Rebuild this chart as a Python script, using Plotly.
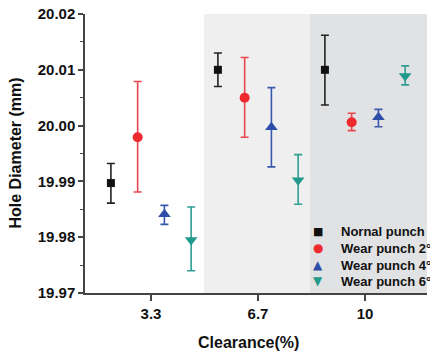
import plotly.graph_objects as go

clearance_labels = ["3.3", "6.7", "10"]
series_names = ["Nornal punch", "Wear punch 2°", "Wear punch 4°", "Wear punch 6°"]

normal_mean = [19.9897, 20.0100, 20.0100]
normal_hi = [19.9932, 20.0130, 20.0162]
normal_lo = [19.9861, 20.0070, 20.0037]

wear2_mean = [19.9979, 20.0050, 20.0006]
wear2_hi = [20.0079, 20.0122, 20.0022]
wear2_lo = [19.9881, 19.9979, 19.9991]

wear4_mean = [19.9841, 19.9997, 20.0015]
wear4_hi = [19.9857, 20.0068, 20.0029]
wear4_lo = [19.9823, 19.9926, 19.9998]

wear6_mean = [19.9795, 19.9902, 20.0089]
wear6_hi = [19.9854, 19.9948, 20.0107]
wear6_lo = [19.9740, 19.9859, 20.0073]

offsets = [-0.375, -0.125, 0.125, 0.375]
colors = ["#111111", "#ee2a2f", "#2d4ea8", "#1f9a8b"]
err_colors = ["#222222", "#e8464e", "#3a58ad", "#2f9f91"]
symbols = ["square", "circle", "triangle-up", "triangle-down"]
sizes = [8, 10, 11, 11]
legend_glyphs = ["■", "●", "▲", "▼"]
legend_glyph_sizes = [11, 12, 12, 12]

data = [
    (normal_mean, normal_hi, normal_lo),
    (wear2_mean, wear2_hi, wear2_lo),
    (wear4_mean, wear4_hi, wear4_lo),
    (wear6_mean, wear6_hi, wear6_lo),
]

L, R, T, B = 85, 3, 14, 64
W, H = 430, 357
pw, ph = W - L - R, H - T - B

def px_x(x):
    return (x - L) / pw

def px_y(y):
    return (H - B - y) / ph

fig = go.Figure()

# shaded regions
fig.add_shape(type="rect", xref="x", yref="y", x0=0.495, x1=1.486, y0=19.97, y1=20.02,
              fillcolor="#efefef", line_width=0, layer="below")
fig.add_shape(type="rect", xref="x", yref="y", x0=1.486, x1=2.6, y0=19.97, y1=20.02,
              fillcolor="#e1e2e3", line_width=0, layer="below")

for i, (m, hi, lo) in enumerate(data):
    xs = [g + offsets[i] for g in range(len(clearance_labels))]
    fig.add_trace(go.Scatter(
        x=xs, y=m, mode="markers", name=series_names[i], showlegend=False,
        marker=dict(symbol=symbols[i], size=sizes[i], color=colors[i], line=dict(width=0)),
        error_y=dict(type="data", symmetric=False,
                     array=[h - v for h, v in zip(hi, m)],
                     arrayminus=[v - l for v, l in zip(m, lo)],
                     color=err_colors[i], thickness=1.6, width=4),
    ))

annotations = [
    dict(text="Clearance(%)", xref="paper", yref="paper", x=px_x(248), y=px_y(342),
         xanchor="center", yanchor="middle", showarrow=False,
         font=dict(size=16, weight="bold")),
    dict(text="Hole Diameter (mm)", xref="paper", yref="paper", x=px_x(15), y=0.5,
         xanchor="center", yanchor="middle", showarrow=False, textangle=-90,
         font=dict(size=16, weight="bold")),
]
legend_rows = [231, 248, 265, 281]
for i, name in enumerate(series_names):
    annotations.append(dict(text=legend_glyphs[i], xref="paper", yref="paper",
                            x=px_x(318), y=px_y(legend_rows[i]), xanchor="center", yanchor="middle",
                            showarrow=False, font=dict(size=legend_glyph_sizes[i], color=colors[i],
                                                       family="DejaVu Sans")))
    annotations.append(dict(text=name, xref="paper", yref="paper",
                            x=px_x(339), y=px_y(legend_rows[i]), xanchor="left", yanchor="middle",
                            showarrow=False, font=dict(size=13, weight="bold", color="#111111")))

fig.update_layout(
    width=W, height=H,
    margin=dict(l=L, r=R, t=T, b=B, autoexpand=False),
    paper_bgcolor="white", plot_bgcolor="rgba(0,0,0,0)",
    font=dict(family="Arial, Liberation Sans, sans-serif", color="#111111"),
    showlegend=False,
    xaxis=dict(range=[-0.617, 2.579], tickmode="array", tickvals=[0, 1, 2],
               ticktext=clearance_labels, showgrid=False, zeroline=False,
               showline=True, linecolor="#444444", linewidth=1.5,
               ticks="outside", ticklen=6, tickwidth=1.5, tickcolor="#444444",
               tickfont=dict(size=15, weight="bold")),
    yaxis=dict(range=[19.97, 20.02], tickvals=[19.97, 19.98, 19.99, 20.00, 20.01, 20.02],
               ticktext=["19.97", "19.98", "19.99", "20.00", "20.01", "20.02"],
               showgrid=False, zeroline=False,
               showline=True, linecolor="#444444", linewidth=1.5,
               ticks="outside", ticklen=5, tickwidth=1.5, tickcolor="#444444",
               tickfont=dict(size=15, weight="bold"),
               minor=dict(tickvals=[19.975, 19.985, 19.995, 20.005, 20.015],
                          ticks="outside", ticklen=3, tickwidth=1.2, tickcolor="#444444")),
    annotations=annotations,
)

fig.write_html("out.html")
